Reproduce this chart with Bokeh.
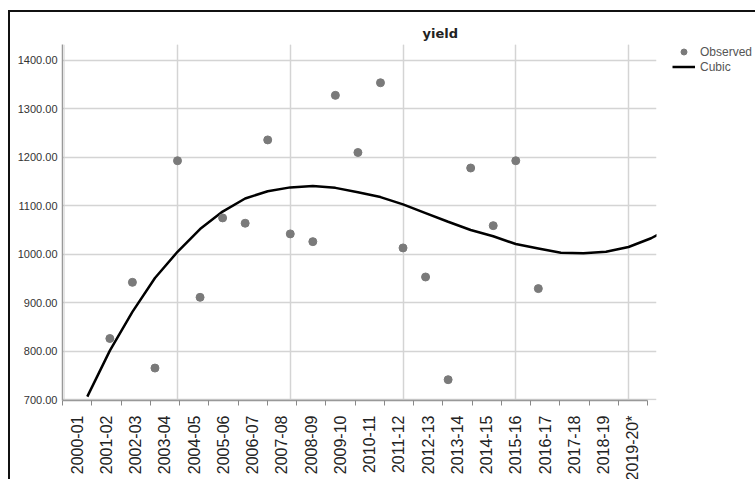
import math
from bokeh.plotting import figure
from bokeh.models import (Range1d, LinearAxis, FixedTicker, CustomJSTickFormatter, Grid,
                          Legend, LegendItem, NumeralTickFormatter)
from bokeh.embed import file_html
from bokeh.resources import INLINE

# ---- data ----
season_labels = ["2000-01", "2001-02", "2002-03", "2003-04", "2004-05", "2005-06", "2006-07",
                 "2007-08", "2008-09", "2009-10", "2010-11", "2011-12", "2012-13", "2013-14",
                 "2014-15", "2015-16", "2016-17", "2017-18", "2018-19", "2019-20*"]
obs_case = [2, 3, 4, 5, 6, 7, 8, 9, 10, 11, 12, 13, 14, 15, 16, 17, 18, 19, 20, 21]
obs_yield = [826, 942, 765, 1193, 911, 1075, 1064, 1236, 1042, 1026, 1328, 1210, 1354, 1013,
             953, 741, 1178, 1059, 1193, 929]
fit_case = [1, 2, 3, 4, 5, 6, 7, 8, 9, 10, 11, 12, 13, 14, 15, 16, 17, 18, 19, 20, 21, 22, 23,
            24, 25, 26, 27]
fit_cubic = [706, 801, 881, 951, 1005, 1052, 1088, 1115, 1130, 1138, 1141, 1137, 1128, 1118,
             1103, 1085, 1067, 1050, 1037, 1021, 1012, 1003, 1002, 1005, 1015, 1033, 1057]
y_ticks = [700, 800, 900, 1000, 1100, 1200, 1300, 1400]
x_grid_cases = [5, 10, 15, 20, 25]

p = figure(frame_width=594, frame_height=356,
           x_range=Range1d(-0.1, 26.24), y_range=Range1d(698, 1433),
           x_axis_location=None, output_backend="svg", toolbar_location=None,
           min_border_left=52, min_border_right=99, min_border_top=32, min_border_bottom=79)
p.margin = (10, 0, 0, 8)
p.styles = {"border-left": "2px solid #111", "border-top": "2px solid #111"}
p.outline_line_color = None
p.background_fill_color = "white"
p.border_fill_color = "white"

p.title.text = "yield"
p.title.align = "left"
p.title.offset = 360
p.title.text_font = "DejaVu Sans"
p.title.text_font_size = "13px"
p.title.text_font_style = "bold"
p.title.text_color = "#222"
p.title.standoff = 8

# grids
p.ygrid.ticker = FixedTicker(ticks=y_ticks)
p.ygrid.grid_line_color = "#d4d4d4"
p.ygrid.grid_line_width = 1.5
p.add_layout(Grid(dimension=0, ticker=FixedTicker(ticks=x_grid_cases),
                  grid_line_color="#d4d4d4", grid_line_width=1.5))

# y axis
ya = p.yaxis[0]
ya.ticker = FixedTicker(ticks=y_ticks)
ya.formatter = NumeralTickFormatter(format="0.00")
ya.major_label_text_font = "Liberation Sans"
ya.major_label_text_font_size = "11px"
ya.major_label_text_color = "#333"
ya.major_tick_out = 0
ya.major_tick_in = 0
ya.minor_tick_line_color = None
ya.major_label_standoff = 5
ya.axis_line_color = "#999"
ya.axis_line_width = 1.5

# bottom axis with season labels between tick marks
n = len(season_labels)
p.extra_x_ranges = {"lab": Range1d(0, n * 594 / 585)}
xa = LinearAxis(x_range_name="lab",
                ticker=FixedTicker(ticks=[i + 0.5 for i in range(n)],
                                   minor_ticks=list(range(n + 1))),
                formatter=CustomJSTickFormatter(args=dict(labels=season_labels),
                                                code="return labels[Math.floor(tick)] || '';"))
xa.bounds = (0, n)
xa.major_label_orientation = math.pi / 2
xa.major_label_text_font = "Liberation Sans"
xa.major_label_text_font_size = "16px"
xa.major_label_text_color = "#222"
xa.major_tick_line_color = None
xa.minor_tick_out = 5
xa.minor_tick_in = 0
xa.minor_tick_line_color = "#888"
xa.axis_line_color = "#999"
xa.axis_line_width = 1.5
xa.major_label_standoff = 9
p.add_layout(xa, "below")

ln = p.line(fit_case, fit_cubic, line_color="black", line_width=2.5)
sc = p.scatter(obs_case, obs_yield, size=8, fill_color="#7a7a7a", line_color="#7a7a7a")

legend = Legend(items=[LegendItem(label="Observed", renderers=[sc]),
                       LegendItem(label="Cubic", renderers=[ln])],
                location=(16, 326), padding=0, margin=0, spacing=0,
                glyph_width=23, glyph_height=15, label_height=15, label_standoff=5,
                label_text_font="Liberation Sans", label_text_font_size="12px",
                label_text_color="#555", border_line_color=None, background_fill_alpha=0)
p.add_layout(legend, "right")

open("out.html", "w").write(file_html(p, INLINE))
